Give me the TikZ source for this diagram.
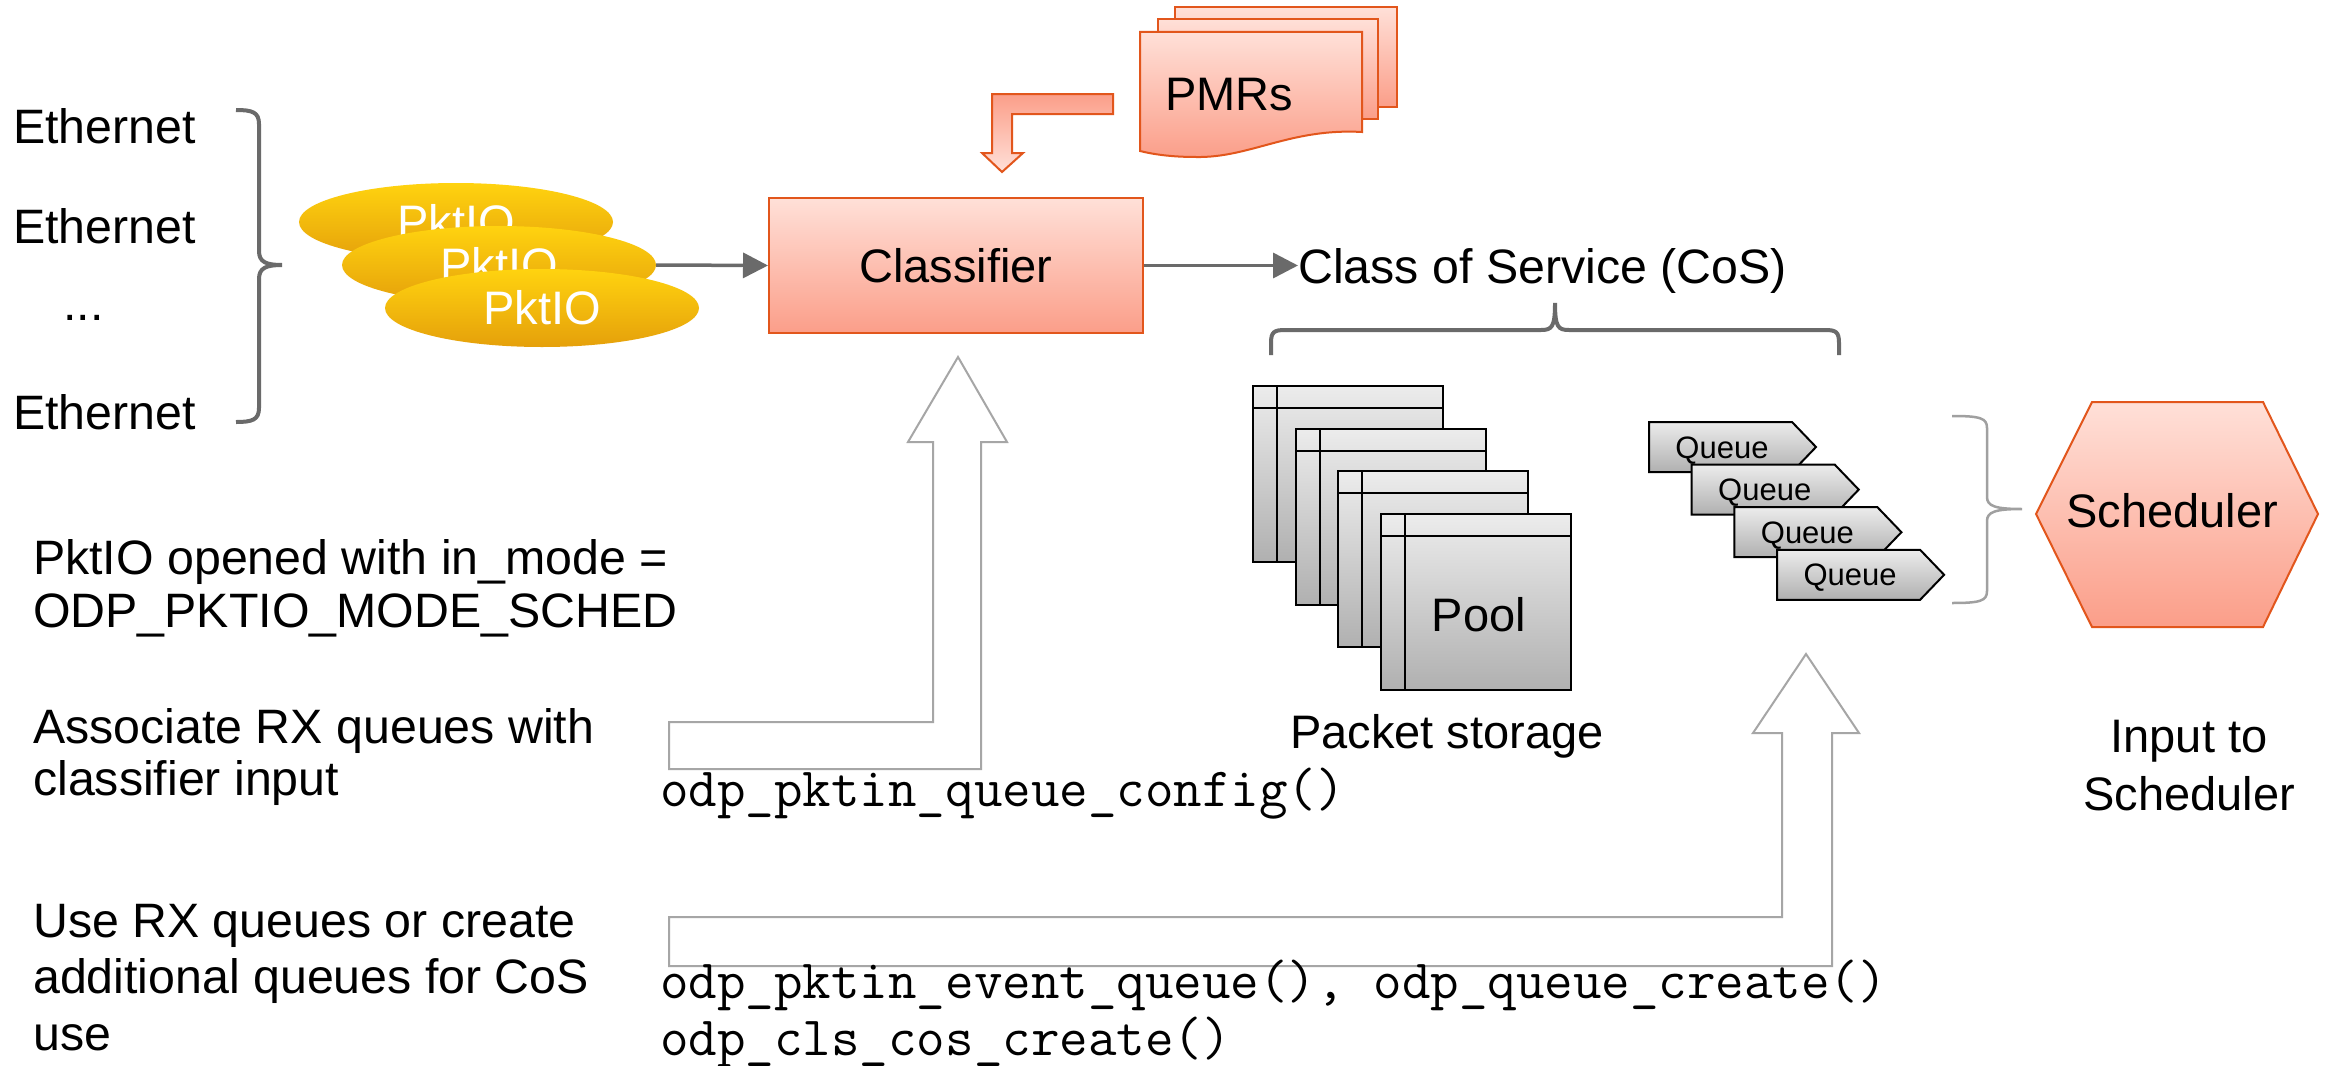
\documentclass[tikz,border=0pt]{standalone}
\usepackage{fontspec}
\setmainfont{Liberation Sans}
\usetikzlibrary{arrows.meta,shapes.geometric}
\definecolor{salmonT}{RGB}{255,224,216}
\definecolor{salmonB}{RGB}{251,158,137}
\definecolor{edgeO}{RGB}{226,86,28}
\definecolor{goldT}{RGB}{255,211,15}
\definecolor{goldB}{RGB}{229,160,11}
\definecolor{greyT}{RGB}{236,236,236}
\definecolor{greyB}{RGB}{176,176,176}
\definecolor{lineG}{RGB}{106,106,106}
\definecolor{hollowG}{RGB}{166,166,166}
\definecolor{braceL}{RGB}{160,160,160}
\tikzset{
 big/.style={font=\fontsize{47}{56}\selectfont, inner sep=0pt},
 bigger/.style={font=\fontsize{48.3}{58}\selectfont, inner sep=0pt},
 code/.style={font=\ttfamily\fontsize{55.4}{62}\selectfont, inner sep=0pt, anchor=base west},
 salmon/.style={top color=salmonT, bottom color=salmonB, draw=edgeO, line width=2pt},
 greyfill/.style={top color=greyT, bottom color=greyB, draw=black, line width=2pt},
 hollow/.style={draw=hollowG, line width=2pt, fill=white},
 conn/.style={draw=lineG, line width=3.5pt, -{Triangle[length=25pt,width=25pt]}},
 pktio/.style={ellipse, minimum width=314pt, minimum height=78pt, top color=goldT, bottom color=goldB, text=white, font=\fontsize{47}{56}\selectfont, inner sep=0pt},
 qtext/.style={font=\fontsize{31}{37}\selectfont, inner sep=0pt, anchor=base},
 bracestyle/.style={draw=lineG, line width=4pt},
 lbrace/.style={draw=braceL, line width=2.5pt},
}
\begin{document}
\begin{tikzpicture}[x=1pt,y=-1pt]
\useasboundingbox[fill=white] (0,0) rectangle (2333,1065);

% Ethernet labels and brace
\node[bigger, anchor=base west] (eth1) at (13,143) {Ethernet};
\node[bigger, anchor=base west] (eth2) at (13,243) {Ethernet};
\node[bigger, anchor=base west] (ethd) at (63,320) {...};
\node[bigger, anchor=base west] (eth3) at (13,429) {Ethernet};
\draw[bracestyle] (236,110) .. controls (252,110) and (259,112) .. (259,124) -- (259,251) .. controls (259,262) and (266,265) .. (282,265) .. controls (266,265) and (259,268) .. (259,279) -- (259,408) .. controls (259,420) and (252,422) .. (236,422);

% PktIO ellipses
\node[pktio] (p1) at (456,222) {PktIO};
\node[pktio] (p2) at (499,265) {PktIO};
\node[pktio] (p3) at (542,308) {PktIO};

% Classifier
\node[salmon, big, minimum width=374pt, minimum height=135pt] (classifier) at (956,265.5) {Classifier};
\draw[conn] (p2.east) -- (classifier.west);
\node[bigger, anchor=base west] (cos) at (1298,283) {Class of Service (CoS)};
\draw[conn] (classifier.east) -- (cos.west |- classifier.east);

% PMRs multi document
\path[salmon] (1175,7) rectangle (1397,107);
\path[salmon] (1158,19) rectangle (1378,119);
\path[salmon] (1140,32) -- (1362,32) -- (1362,132) .. controls (1290,128) and (1250,158) .. (1196,157) .. controls (1170,157) and (1152,154) .. (1140,151) -- cycle;
\node[big, anchor=base west] (pmrs) at (1165,110) {PMRs};
% bent arrow from PMRs to classifier
\path[draw=edgeO, line width=2pt, top color=salmonB, bottom color=salmonT] (1113,94) -- (992,94) -- (992,153) -- (982,153) -- (1002,172) -- (1023,153) -- (1012,153) -- (1012,114) -- (1113,114) -- cycle;

% CoS brace
\draw[bracestyle] (1271,355) -- (1271,343) .. controls (1271,332) and (1274,330) .. (1285,330) -- (1541,330) .. controls (1552,330) and (1555,327) .. (1555,303) .. controls (1555,327) and (1558,330) .. (1569,330) -- (1825,330) .. controls (1836,330) and (1839,332) .. (1839,343) -- (1839,355);

% Pool pages
\foreach \i in {0,1,2,3} {
  \pgfmathsetmacro{\lx}{1253+42.7*\i}
  \pgfmathsetmacro{\ty}{386+42.7*\i}
  \path[greyfill] (\lx,\ty) rectangle ++(190,176);
  \draw[black, line width=2pt] (\lx+24,\ty) -- ++(0,176);
  \draw[black, line width=2pt] (\lx,\ty+22) -- ++(190,0);
}
\node[big, anchor=base] (pool) at (1479,631) {Pool};
\node[big, anchor=base] (pstore) at (1447,748) {Packet storage};

% Queues
\foreach \i in {1,2,3,4} {
  \pgfmathsetmacro{\lx}{1649+42.7*(\i-1)}
  \pgfmathsetmacro{\ty}{422+42.6*(\i-1)}
  \path[greyfill] (\lx,\ty) -- ++(143,0) -- ++(24,25) -- ++(-24,25) -- ++(-143,0) -- cycle;
  \node[qtext] (q\i) at (\lx+73,\ty+36) {Queue};
}

% brace to scheduler
\draw[lbrace] (1952,416) .. controls (1980,416) and (1987,418) .. (1987,428) -- (1987,497) .. controls (1987,506) and (1995,509) .. (2022,509) .. controls (1995,509) and (1987,512) .. (1987,521) -- (1987,591) .. controls (1987,601) and (1980,603) .. (1952,603);

% Scheduler hexagon
\path[salmon] (2036,514) -- (2092,402) -- (2263,402) -- (2318,514) -- (2263,627) -- (2092,627) -- cycle;
\node[big, anchor=base] (sched) at (2172,527) {Scheduler};
\node[big, anchor=base] (inp1) at (2189,752) {Input to};
\node[big, anchor=base] (inp2) at (2189,810) {Scheduler};

% Hollow arrows
\path[hollow] (669,722) -- (933,722) -- (933,442) -- (908,442) -- (958,357) -- (1007,442) -- (981,442) -- (981,769) -- (669,769) -- cycle;
\path[hollow] (669,917) -- (1782,917) -- (1782,733) -- (1753,733) -- (1806,654) -- (1859,733) -- (1832,733) -- (1832,966) -- (669,966) -- cycle;

% Left descriptions
\node[bigger, anchor=base west] (d1a) at (33,574) {PktIO opened with in\_mode =};
\node[bigger, anchor=base west] (d1b) at (33,627) {ODP\_PKTIO\_MODE\_SCHED};
\node[bigger, anchor=base west] (d2a) at (33,743) {Associate RX queues with};
\node[bigger, anchor=base west] (d2b) at (33,795) {classifier input};
\node[bigger, anchor=base west] (d3a) at (33,937) {Use RX queues or create};
\node[bigger, anchor=base west] (d3b) at (33,993) {additional queues for CoS};
\node[bigger, anchor=base west] (d3c) at (33,1050) {use};

% Code
\node[code] (c1) at (660,806) {odp\_pktin\_queue\_config()};
\node[code] (c2) at (660,998) {odp\_pktin\_event\_queue(), odp\_queue\_create()};
\node[code] (c3) at (660,1055) {odp\_cls\_cos\_create()};
\end{tikzpicture}
\end{document}
